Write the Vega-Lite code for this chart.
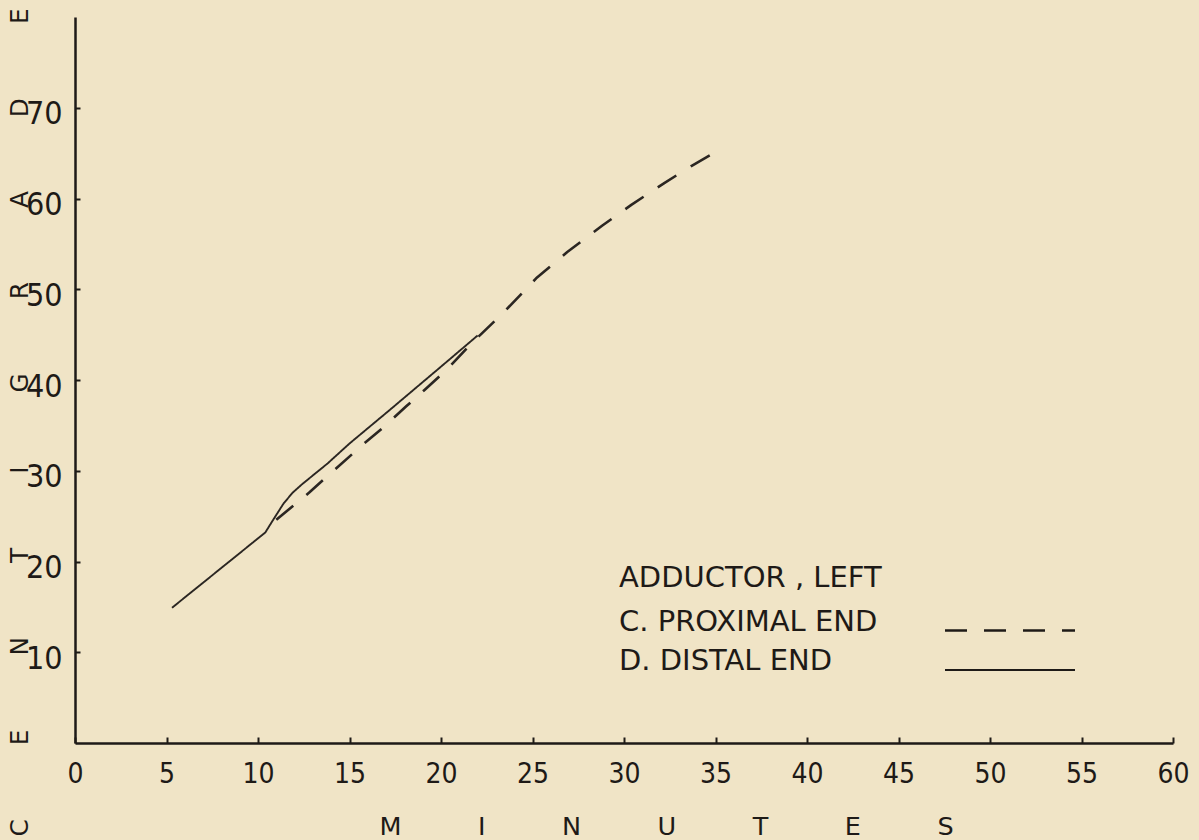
{
  "$schema": "https://vega.github.io/schema/vega-lite/v6.json",
  "width": 1098,
  "height": 726,
  "autosize": "none",
  "padding": {"left": 75, "top": 17, "right": 26, "bottom": 97},
  "background": "#f0e4c6",
  "config": {
    "view": {"stroke": null},
    "axis": {"grid": false}
  },
  "data": {
    "values": [
      {"series": "D. DISTAL END", "minutes": 5.3, "temp": 14.9},
      {"series": "D. DISTAL END", "minutes": 10.4, "temp": 23.2},
      {"series": "D. DISTAL END", "minutes": 10.8, "temp": 24.5},
      {"series": "D. DISTAL END", "minutes": 11.4, "temp": 26.4},
      {"series": "D. DISTAL END", "minutes": 11.9, "temp": 27.6},
      {"series": "D. DISTAL END", "minutes": 12.4, "temp": 28.5},
      {"series": "D. DISTAL END", "minutes": 13.8, "temp": 30.8},
      {"series": "D. DISTAL END", "minutes": 15.0, "temp": 33.0},
      {"series": "D. DISTAL END", "minutes": 17.2, "temp": 36.7},
      {"series": "D. DISTAL END", "minutes": 19.9, "temp": 41.3},
      {"series": "D. DISTAL END", "minutes": 22.0, "temp": 44.9},
      {"series": "C. PROXIMAL END", "minutes": 11.0, "temp": 24.6},
      {"series": "C. PROXIMAL END", "minutes": 12.8, "temp": 27.6},
      {"series": "C. PROXIMAL END", "minutes": 13.9, "temp": 29.6},
      {"series": "C. PROXIMAL END", "minutes": 15.8, "temp": 33.0},
      {"series": "C. PROXIMAL END", "minutes": 16.8, "temp": 34.7},
      {"series": "C. PROXIMAL END", "minutes": 18.1, "temp": 37.1},
      {"series": "C. PROXIMAL END", "minutes": 19.1, "temp": 38.9},
      {"series": "C. PROXIMAL END", "minutes": 20.3, "temp": 41.1},
      {"series": "C. PROXIMAL END", "minutes": 21.7, "temp": 44.1},
      {"series": "C. PROXIMAL END", "minutes": 23.4, "temp": 47.4},
      {"series": "C. PROXIMAL END", "minutes": 25.2, "temp": 51.2},
      {"series": "C. PROXIMAL END", "minutes": 26.9, "temp": 54.1},
      {"series": "C. PROXIMAL END", "minutes": 28.8, "temp": 57.0},
      {"series": "C. PROXIMAL END", "minutes": 30.4, "temp": 59.3},
      {"series": "C. PROXIMAL END", "minutes": 32.2, "temp": 61.7},
      {"series": "C. PROXIMAL END", "minutes": 33.7, "temp": 63.6},
      {"series": "C. PROXIMAL END", "minutes": 34.9, "temp": 65.0}
    ]
  },
  "mark": {"type": "line", "interpolate": "linear", "color": "#2b2622", "strokeCap": "butt", "strokeJoin": "round"},
  "encoding": {
    "x": {
      "field": "minutes",
      "type": "quantitative",
      "scale": {"domain": [0, 60], "nice": false, "zero": false},
      "axis": {
        "values": [0, 5, 10, 15, 20, 25, 30, 35, 40, 45, 50, 55, 60],
        "title": "M\u2003\u2003\u2003I\u2003\u2003\u2003N\u2003\u2003\u2003U\u2003\u2003\u2003T\u2003\u2003\u2003E\u2003\u2003\u2003S",
        "titleFont": "DejaVu Sans",
        "titleFontSize": 25.5,
        "titleFontWeight": "normal",
        "titleColor": "#1e1a17",
        "titleX": 591,
        "titleY": 91,
        "titleAlign": "center",
        "titleBaseline": "alphabetic",
        "titleLimit": 2000,
        "labelFont": "Liberation Sans Narrow, DejaVu Sans Condensed, sans-serif",
        "labelFontSize": 28,
        "labelColor": "#1e1a17",
        "labelPadding": 23,
        "labelFlush": false,
        "labelOverlap": false,
        "labelBaseline": "top",
        "tickSize": -6,
        "tickWidth": 2,
        "tickColor": "#1e1a17",
        "domainColor": "#1e1a17",
        "domainWidth": 2.5
      }
    },
    "y": {
      "field": "temp",
      "type": "quantitative",
      "scale": {"domain": [0, 80], "nice": false, "zero": false},
      "axis": {
        "values": [10, 20, 30, 40, 50, 60, 70],
        "title": "C\u2003\u2003\u2003E\u2003\u2003\u2003N\u2003\u2003\u2003T\u2003\u2003\u2003I\u2003\u2003\u2003G\u2003\u2003\u2003R\u2003\u2003\u2003A\u2003\u2003\u2003D\u2003\u2003\u2003E",
        "titleFont": "DejaVu Sans",
        "titleFontSize": 24.7,
        "titleFontWeight": "normal",
        "titleColor": "#1e1a17",
        "titleAngle": 270,
        "titleX": -48,
        "titleY": 405,
        "titleAlign": "center",
        "titleBaseline": "alphabetic",
        "titleLimit": 2000,
        "labelFont": "Liberation Sans Narrow, DejaVu Sans Condensed, sans-serif",
        "labelFontSize": 32,
        "labelColor": "#1e1a17",
        "labelPadding": 18,
        "labelOffset": 6,
        "labelAlign": "right",
        "labelBaseline": "middle",
        "labelOverlap": false,
        "tickSize": -5,
        "tickWidth": 2,
        "tickColor": "#1e1a17",
        "domainColor": "#1e1a17",
        "domainWidth": 2.5
      }
    },
    "strokeDash": {
      "field": "series",
      "type": "nominal",
      "scale": {"domain": ["C. PROXIMAL END", "D. DISTAL END"], "range": [[22, 17], [1, 0]]},
      "legend": {
        "orient": "none",
        "legendX": 544,
        "legendY": 547,
        "padding": 0,
        "title": "ADDUCTOR , LEFT",
        "titleFont": "DejaVu Sans",
        "titleFontSize": 29,
        "titleFontWeight": "normal",
        "titleColor": "#1e1a17",
        "titlePadding": 3.5,
        "titleLimit": 2000,
        "labelFont": "DejaVu Sans",
        "labelFontSize": 29,
        "labelColor": "#1e1a17",
        "labelBaseline": "alphabetic",
        "labelOffset": -425,
        "labelLimit": 2000,
        "symbolType": "M-2,0H2",
        "symbolSize": 4225,
        "symbolStrokeWidth": 2.5,
        "symbolStrokeColor": "#1e1a17",
        "symbolFillColor": "transparent",
        "symbolOffset": 357,
        "rowPadding": 0
      }
    },
    "strokeWidth": {
      "field": "series",
      "type": "nominal",
      "scale": {"domain": ["C. PROXIMAL END", "D. DISTAL END"], "range": [2.6, 1.9]},
      "legend": null
    }
  }
}
